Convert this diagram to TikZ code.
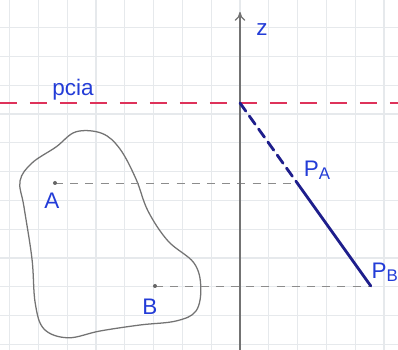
\documentclass[tikz,border=0pt]{standalone}
\usepackage{fontspec}
\newfontfamily\handfont{Liberation Sans}
\usepackage{tikz}
\usetikzlibrary{arrows.meta}
\usepackage{xcolor}
\definecolor{inkblue}{RGB}{35,60,215}
\definecolor{navy}{RGB}{30,30,140}
\definecolor{pcred}{RGB}{222,50,90}
\definecolor{paper}{RGB}{230,233,236}

\begin{document}
\begin{tikzpicture}[
  gridline/.style={draw=paper, line width=0.8pt},
  axis/.style={-{To[length=2.2mm,width=2.6mm]}, draw=black!55, line width=0.9pt},
  plane/.style={draw=pcred, line width=1.7pt, dash pattern=on 0.43cm off 0.32cm},
  lbl/.style={text=inkblue, font=\handfont\fontsize{16}{16}\selectfont, inner sep=0pt},
  proj/.style={draw=black!45, line width=0.6pt, dash pattern=on 0.2cm off 0.18cm},
  seg/.style={draw=navy, line width=2pt, line cap=round},
  blob/.style={draw=black!55, line width=0.9pt}
]
\useasboundingbox (-6.0,-6.175) rectangle (3.95,2.575);
\fill[white] (-6.0,-6.175) rectangle (3.95,2.575);

% graph paper
\foreach \gx in {-8,...,5}
  \draw[gridline] (\gx*0.72,-6.175) -- (\gx*0.72,2.575);
\foreach \gy in {-8,...,3}
  \draw[gridline] (-6.0,-0.275+\gy*0.72) -- (3.95,-0.275+\gy*0.72);

% points
\coordinate (origin) at (0,0);
\coordinate (bottom) at (0,-6.175);
\coordinate (top) at (0,2.275);
\coordinate (west) at (-6.0,0);
\coordinate (east) at (3.95,0);
\coordinate (A) at (-4.625,-2.0);
\coordinate (B) at (-2.125,-4.575);
\coordinate (PA) at (1.43,-2.0);
\coordinate (PB) at (3.27,-4.575);

% region
\draw[blob] plot[smooth cycle, tension=0.6] coordinates {
  (-4.1,-0.72) (-3.45,-0.76) (-3.0,-1.15) (-2.6,-1.9) (-2.3,-2.7)
  (-1.8,-3.45) (-1.15,-4.0) (-0.98,-4.6) (-1.1,-5.2) (-1.6,-5.45)
  (-2.5,-5.55) (-3.5,-5.7) (-4.3,-5.87) (-4.9,-5.65) (-5.12,-5.0)
  (-5.2,-3.9) (-5.4,-2.6) (-5.5,-1.95) (-5.2,-1.5) (-4.6,-1.1)};

% projections
\draw[proj] (A) -- (PA);
\draw[proj] (B) -- (PB);

% axis and plane
\draw[axis] (bottom) -- (top);
\draw[plane] (west) -- (east);

% segment
\draw[seg, dash pattern=on 0.25cm off 0.15cm] (origin) -- (PA);
\draw[seg] (PA) -- (PB);

\fill[black!60] (A) circle (0.05);
\fill[black!60] (B) circle (0.05);

% labels
\node[lbl] (zlbl) at (0.55,1.825) {z};
\node[lbl] (pcialbl) at (-4.175,0.325) {pcia};
\node[lbl] (Albl) at (-4.7,-2.45) {A};
\node[lbl] (Blbl) at (-2.25,-5.1) {B};
\node[lbl] (PAlbl) at (1.925,-1.675) {P\raisebox{-0.12em}{\fontsize{12}{12}\selectfont A}};
\node[lbl] (PBlbl) at (3.62,-4.225) {P\raisebox{-0.12em}{\fontsize{12}{12}\selectfont B}};
\end{tikzpicture}
\end{document}
